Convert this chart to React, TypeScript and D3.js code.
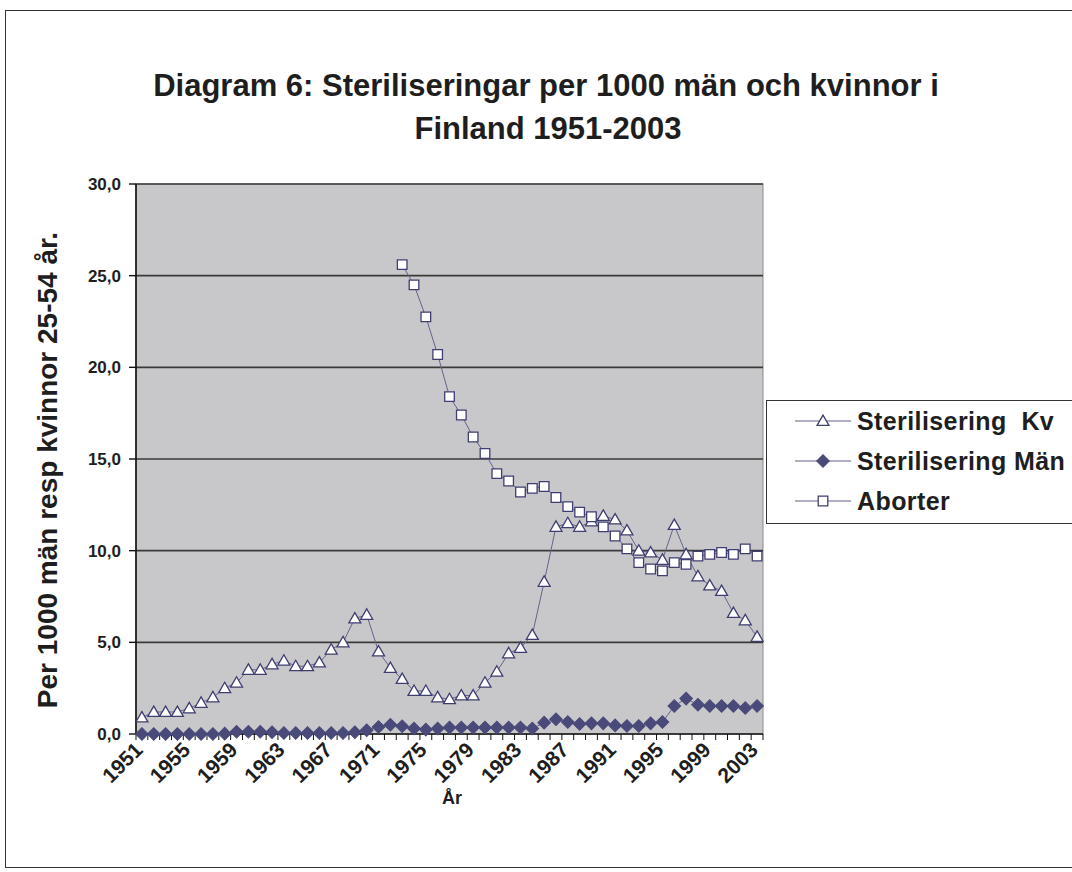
import * as d3 from "d3";
import React, { useRef, useEffect } from "react";

const years = [
  "1951", "1952", "1953", "1954", "1955", "1956", "1957", "1958", "1959", "1960",
  "1961", "1962", "1963", "1964", "1965", "1966", "1967", "1968", "1969", "1970",
  "1971", "1972", "1973", "1974", "1975", "1976", "1977", "1978", "1979", "1980",
  "1981", "1982", "1983", "1984", "1985", "1986", "1987", "1988", "1989", "1990",
  "1991", "1992", "1993", "1994", "1995", "1996", "1997", "1998", "1999", "2000",
  "2001", "2002", "2003",
];

// Sterilisering Kv
const kvinnor = [
  0.9, 1.2, 1.2, 1.2, 1.4, 1.7, 2.0, 2.5, 2.8, 3.5,
  3.5, 3.8, 4.0, 3.7, 3.7, 3.9, 4.6, 5.0, 6.3, 6.5,
  4.5, 3.6, 3.0, 2.35, 2.35, 2.0, 1.9, 2.1, 2.1, 2.8,
  3.4, 4.4, 4.7, 5.4, 8.3, 11.3, 11.5, 11.3, 11.6, 11.9,
  11.7, 11.1, 10.0, 9.9, 9.5, 11.4, 9.8, 8.6, 8.1, 7.8,
  6.6, 6.2, 5.3,
];

// Sterilisering Män
const man = [
  0.0, 0.0, 0.0, 0.0, 0.0, 0.0, 0.0, 0.02, 0.12, 0.12,
  0.12, 0.1, 0.05, 0.05, 0.05, 0.05, 0.05, 0.05, 0.1, 0.2,
  0.38, 0.5, 0.42, 0.3, 0.24, 0.3, 0.35, 0.35, 0.35, 0.35,
  0.35, 0.35, 0.35, 0.3, 0.62, 0.8, 0.65, 0.55, 0.58, 0.58,
  0.47, 0.44, 0.44, 0.58, 0.65, 1.53, 1.93, 1.6, 1.53, 1.53,
  1.53, 1.42, 1.53,
];

// Aborter (no data before 1973)
const aborter = [
  null, null, null, null, null, null, null, null, null, null,
  null, null, null, null, null, null, null, null, null, null,
  null, null, 25.6, 24.5, 22.75, 20.7, 18.4, 17.4, 16.2, 15.3,
  14.2, 13.8, 13.2, 13.4, 13.5, 12.9, 12.4, 12.1, 11.85, 11.3,
  10.8, 10.1, 9.35, 9.0, 8.9, 9.35, 9.25, 9.7, 9.8, 9.9,
  9.8, 10.1, 9.7,
];

const yTicks = [0, 5, 10, 15, 20, 25, 30];
const seriesNames = ["Sterilisering  Kv", "Sterilisering Män", "Aborter"];

const FONT = "'Liberation Sans', Arial, Helvetica, sans-serif";
const LINE = "#63638c";
const MARK = "#3e3e72";
const DIAMOND = "#4a4a7a";
const TEXT = "#1e1e1e";

const App = () => {
  const svgRef = useRef(null);

  useEffect(() => {
    document.body.style.margin = "0";
    const svg = d3.select(svgRef.current);
    svg.selectAll("*").remove();

    const left = 136, right = 763, top = 184, bottom = 734;

    const x = d3.scaleBand().domain(years).range([left, right]).padding(0);
    const y = d3.scaleLinear().domain([0, 30]).range([bottom, top]);
    const cx = (i) => x(years[i]) + x.bandwidth() / 2;

    // outer frame
    svg.append("rect")
      .attr("x", 5.5).attr("y", 10.5)
      .attr("width", 1100).attr("height", 857)
      .attr("fill", "#fff").attr("stroke", "#333").attr("stroke-width", 1);

    // title
    const title = svg.append("text")
      .attr("text-anchor", "middle")
      .attr("font-family", FONT).attr("font-weight", "bold")
      .attr("font-size", 31).attr("fill", TEXT);
    title.append("tspan").attr("x", 546).attr("y", 96)
      .text("Diagram 6: Steriliseringar per 1000 män och kvinnor i");
    title.append("tspan").attr("x", 548).attr("y", 139)
      .text("Finland 1951-2003");

    // plot background
    svg.append("rect")
      .attr("x", left).attr("y", top)
      .attr("width", right - left).attr("height", bottom - top)
      .attr("fill", "#c8c8ca")
      .attr("stroke", "#8a8a8a").attr("stroke-width", 1);

    // gridlines
    svg.append("g")
      .selectAll("line")
      .data(yTicks.filter((d) => d > 0))
      .enter()
      .append("line")
      .attr("x1", left).attr("x2", right)
      .attr("y1", (d) => y(d)).attr("y2", (d) => y(d))
      .attr("stroke", "#3a3a3a").attr("stroke-width", 1.6);

    // y axis
    const yAxis = svg.append("g");
    yAxis.append("line")
      .attr("x1", left).attr("x2", left).attr("y1", top).attr("y2", bottom)
      .attr("stroke", "#111").attr("stroke-width", 1.6);
    yAxis.selectAll(".ytick")
      .data(yTicks)
      .enter()
      .append("line")
      .attr("x1", left - 7).attr("x2", left)
      .attr("y1", (d) => y(d)).attr("y2", (d) => y(d))
      .attr("stroke", "#111").attr("stroke-width", 1.4);
    yAxis.selectAll(".ylabel")
      .data(yTicks)
      .enter()
      .append("text")
      .attr("x", left - 15)
      .attr("y", (d) => y(d))
      .attr("dy", "0.36em")
      .attr("text-anchor", "end")
      .attr("font-family", FONT).attr("font-weight", "bold")
      .attr("font-size", 17).attr("fill", TEXT)
      .text((d) => d3.format(".1f")(d).replace(".", ","));

    svg.append("text")
      .attr("transform", `translate(57,470) rotate(-90)`)
      .attr("text-anchor", "middle")
      .attr("font-family", FONT).attr("font-weight", "bold")
      .attr("font-size", 28).attr("fill", TEXT)
      .text("Per 1000 män resp kvinnor 25-54 år.");

    // x axis
    const xAxis = svg.append("g");
    xAxis.append("line")
      .attr("x1", left).attr("x2", right).attr("y1", bottom).attr("y2", bottom)
      .attr("stroke", "#111").attr("stroke-width", 1.6);
    xAxis.selectAll(".xtick")
      .data(years.concat(["end"]))
      .enter()
      .append("line")
      .attr("x1", (d, i) => left + i * x.bandwidth())
      .attr("x2", (d, i) => left + i * x.bandwidth())
      .attr("y1", bottom).attr("y2", bottom + 6)
      .attr("stroke", "#111").attr("stroke-width", 1);
    xAxis.selectAll(".xlabel")
      .data(years.filter((d, i) => i % 4 === 0))
      .enter()
      .append("text")
      .attr("transform", (d) => `translate(${x(d) + x.bandwidth() / 2 - 3},${bottom + 12}) rotate(-45)`)
      .attr("text-anchor", "end")
      .attr("dy", "0.35em")
      .attr("font-family", FONT).attr("font-weight", "bold")
      .attr("font-size", 21).attr("fill", TEXT)
      .text((d) => d);

    svg.append("text")
      .attr("x", 452).attr("y", 804)
      .attr("text-anchor", "middle")
      .attr("font-family", FONT).attr("font-weight", "bold")
      .attr("font-size", 18).attr("fill", TEXT)
      .text("År");

    // lines
    const line = d3.line()
      .defined((d) => d != null)
      .x((d, i) => cx(i))
      .y((d) => y(d));

    const triangle = d3.symbol().type(d3.symbolTriangle).size(62)();
    const square = d3.symbol().type(d3.symbolSquare).size(92)();
    const diamond = d3.symbol().type(d3.symbolSquare).size(80)();

    const marker = (sel, kind, tx, ty) =>
      sel
        .attr("d", kind === "tri" ? triangle : kind === "sq" ? square : diamond)
        .attr("transform", (d) =>
          `translate(${tx(d)},${ty(d) + (kind === "tri" ? 1 : 0)})` + (kind === "dia" ? " rotate(45)" : ""))
        .attr("fill", kind === "dia" ? DIAMOND : "#fff")
        .attr("stroke", kind === "dia" ? DIAMOND : MARK)
        .attr("stroke-width", kind === "dia" ? 1 : 1.3);

    const drawSeries = (values, kind) => {
      const g = svg.append("g");
      g.append("path")
        .datum(values)
        .attr("d", line)
        .attr("fill", "none")
        .attr("stroke", LINE)
        .attr("stroke-width", 1);
      const pts = values
        .map((v, i) => ({ v, i }))
        .filter((d) => d.v != null);
      marker(
        g.selectAll("path.mark").data(pts).enter().append("path").attr("class", "mark"),
        kind,
        (d) => cx(d.i),
        (d) => y(d.v)
      );
    };

    drawSeries(kvinnor, "tri");
    drawSeries(man, "dia");
    drawSeries(aborter, "sq");

    // legend
    const legend = svg.append("g");
    legend.append("rect")
      .attr("x", 766.5).attr("y", 400.5)
      .attr("width", 340).attr("height", 123)
      .attr("fill", "#fff").attr("stroke", "#333").attr("stroke-width", 1);
    const rows = [421, 461, 501];
    const kinds = ["tri", "dia", "sq"];
    rows.forEach((ry, i) => {
      legend.append("line")
        .attr("x1", 795).attr("x2", 851).attr("y1", ry).attr("y2", ry)
        .attr("stroke", LINE).attr("stroke-width", 1);
      marker(legend.append("path").datum(ry), kinds[i], () => 823, (d) => d);
      legend.append("text")
        .attr("x", 857).attr("y", ry)
        .attr("dy", "0.36em")
        .attr("font-family", FONT).attr("font-weight", "bold")
        .attr("font-size", 25).attr("fill", TEXT)
        .attr("letter-spacing", 0.4)
        .style("white-space", "pre")
        .text(seriesNames[i]);
    });
  }, []);

  return (
    <div style={{ position: "absolute", left: 0, top: 0, width: 1072, height: 872, overflow: "hidden" }}>
      <svg ref={svgRef} width={1072} height={872}></svg>
    </div>
  );
};

export default App;
